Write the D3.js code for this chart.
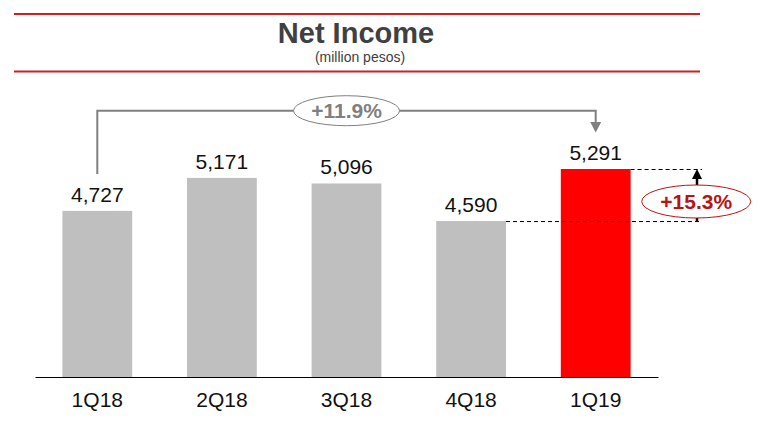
<!DOCTYPE html>
<html>
<head>
<meta charset="utf-8">
<script src="https://cdn.jsdelivr.net/npm/d3@7"></script>
<style>
html,body{margin:0;padding:0;background:#fff;}
svg{display:block;font-family:"Liberation Sans",Arial,sans-serif;}
</style>
</head>
<body>
<svg id="chart" width="759" height="432"></svg>
<script>
const categories = ["1Q18", "2Q18", "3Q18", "4Q18", "1Q19"];
const values = [4727, 5171, 5096, 4590, 5291];
const valueLabels = ["4,727", "5,171", "5,096", "4,590", "5,291"];
const yoyLabel = "+11.9%";
const qoqLabel = "+15.3%";
const titleText = "Net Income";
const subtitleText = "(million pesos)";

const svg = d3.select("#chart");
const W = 759, H = 432;

// header rules
svg.append("line").attr("x1", 14).attr("x2", 700).attr("y1", 14).attr("y2", 14)
  .attr("stroke", "#cc2222").attr("stroke-width", 2);
svg.append("line").attr("x1", 14).attr("x2", 700).attr("y1", 71.5).attr("y2", 71.5)
  .attr("stroke", "#cc2222").attr("stroke-width", 2);

svg.append("text").attr("x", 356).attr("y", 43).attr("text-anchor", "middle")
  .attr("font-size", 29).attr("font-weight", "bold").attr("fill", "#404040").text(titleText);
svg.append("text").attr("x", 360).attr("y", 62).attr("text-anchor", "middle")
  .attr("font-size", 14).attr("fill", "#404040").text(subtitleText);

// scales
const x = d3.scaleBand().domain(categories).range([35, 658]).paddingInner(0.44).paddingOuter(0.22);
const y = d3.scaleLinear().domain([2490, 5291]).range([377, 169]);

// bars
svg.append("g").selectAll("rect").data(categories).join("rect")
  .attr("x", d => x(d))
  .attr("y", (d, i) => y(values[i]))
  .attr("width", x.bandwidth())
  .attr("height", (d, i) => y.range()[0] - y(values[i]))
  .attr("fill", (d, i) => i === categories.length - 1 ? "#ff0000" : "#bfbfbf");

// value labels
svg.append("g").selectAll("text").data(categories).join("text")
  .attr("x", d => x(d) + x.bandwidth() / 2)
  .attr("y", (d, i) => y(values[i]) - 9)
  .attr("text-anchor", "middle")
  .attr("font-size", 21)
  .attr("fill", "#111")
  .text((d, i) => valueLabels[i]);

// x axis
const axis = svg.append("g").attr("transform", "translate(0,377)")
  .call(d3.axisBottom(x).tickSize(0).tickSizeOuter(0).tickPadding(10));
axis.select(".domain").attr("stroke", "#000").attr("stroke-width", 1);
axis.selectAll(".tick text").attr("font-size", 21).attr("fill", "#111")
  .attr("font-family", "Liberation Sans, Arial, sans-serif")
  .attr("dy", "0").attr("y", 29.5);

// YoY bracket
const cx = d => x(d) + x.bandwidth() / 2;
const x0 = cx(categories[0]), x4 = cx(categories[4]), xm = cx(categories[2]);
const bracketY = 110.7;
const gray = "#808080";
svg.append("path")
  .attr("d", `M${x0},${y(values[0]) - 37}V${bracketY}H${x4}V${122}`)
  .attr("fill", "none").attr("stroke", gray).attr("stroke-width", 2);
svg.append("path")
  .attr("d", `M${x4 - 5.5},122L${x4 + 5.5},122L${x4},132.5Z`)
  .attr("fill", gray);
svg.append("ellipse").attr("cx", xm).attr("cy", bracketY).attr("rx", 53).attr("ry", 15)
  .attr("fill", "#fff").attr("stroke", gray).attr("stroke-width", 1);
svg.append("text").attr("x", xm).attr("y", bracketY + 7.5).attr("text-anchor", "middle")
  .attr("font-size", 21).attr("font-weight", "bold").attr("fill", gray).text(yoyLabel);

// QoQ dashed lines & arrow
const dark = "#b81414";
const ax = 697;
const yTop = y(values[4]), yBot = y(values[3]);
svg.append("line").attr("x1", x(categories[4]) + x.bandwidth()).attr("x2", 702)
  .attr("y1", yTop + 0.5).attr("y2", yTop + 0.5)
  .attr("stroke", "#000").attr("stroke-width", 1).attr("stroke-dasharray", "4,3");
svg.append("line").attr("x1", x(categories[3]) + x.bandwidth()).attr("x2", 702)
  .attr("y1", yBot + 0.5).attr("y2", yBot + 0.5)
  .attr("stroke", "#000").attr("stroke-width", 1).attr("stroke-dasharray", "4,3");
svg.append("line").attr("x1", ax).attr("x2", ax).attr("y1", yBot).attr("y2", yTop + 9)
  .attr("stroke", "#000").attr("stroke-width", 2.5);
svg.append("path").attr("d", `M${ax - 5},${yTop + 10}L${ax + 5},${yTop + 10}L${ax},${yTop}Z`)
  .attr("fill", "#000");
svg.append("ellipse").attr("cx", 696.2).attr("cy", 201.5).attr("rx", 54.5).attr("ry", 16.5)
  .attr("fill", "#fff").attr("stroke", dark).attr("stroke-width", 1);
svg.append("text").attr("x", 696.2).attr("y", 209).attr("text-anchor", "middle")
  .attr("font-size", 21).attr("font-weight", "bold").attr("fill", dark).text(qoqLabel);
</script>
</body>
</html>
